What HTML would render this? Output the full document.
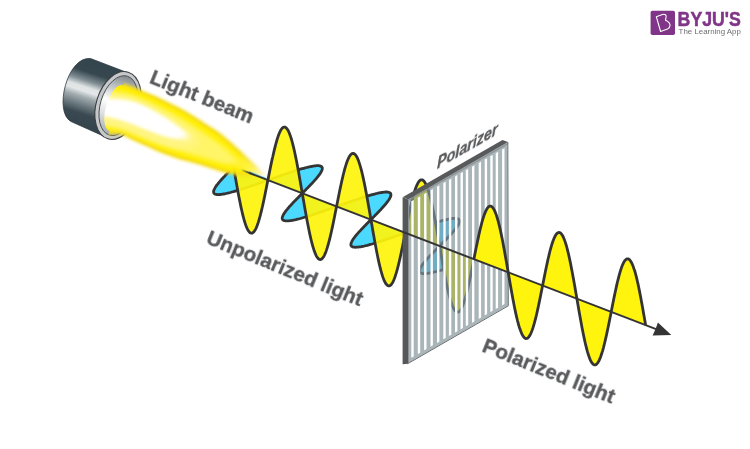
<!DOCTYPE html>
<html><head><meta charset="utf-8">
<style>
html,body{margin:0;padding:0;background:#fff;}
body{width:750px;height:449px;overflow:hidden;font-family:"Liberation Sans",sans-serif;}
svg{display:block;}
text{font-family:"Liberation Sans",sans-serif;}
</style></head><body>
<svg width="750" height="449" viewBox="0 0 750 449">
<defs>
  <linearGradient id="cyl" gradientUnits="userSpaceOnUse" x1="102" y1="60" x2="80" y2="128">
    <stop offset="0" stop-color="#34444c"/>
    <stop offset="0.22" stop-color="#37474f"/>
    <stop offset="0.34" stop-color="#7f8d93"/>
    <stop offset="0.43" stop-color="#dfe3e4"/>
    <stop offset="0.49" stop-color="#e4e7e8"/>
    <stop offset="0.57" stop-color="#a3adb1"/>
    <stop offset="0.68" stop-color="#6f7c82"/>
    <stop offset="0.80" stop-color="#3b4a52"/>
    <stop offset="1" stop-color="#33434b"/>
  </linearGradient>
  <linearGradient id="rimg" gradientUnits="userSpaceOnUse" x1="-4" y1="-31" x2="-4" y2="31">
    <stop offset="0" stop-color="#80878a"/>
    <stop offset="0.2" stop-color="#b9bdbf"/>
    <stop offset="0.45" stop-color="#ffffff"/>
    <stop offset="0.68" stop-color="#dfe1e2"/>
    <stop offset="1" stop-color="#a4aaad"/>
  </linearGradient>
  <filter id="blur6" x="-30%" y="-30%" width="160%" height="160%"><feGaussianBlur stdDeviation="4"/></filter>
  <filter id="blur3" x="-30%" y="-30%" width="160%" height="160%"><feGaussianBlur stdDeviation="3.5"/></filter>
  <filter id="blurA" filterUnits="userSpaceOnUse" x="0" y="-100" width="500" height="400"><feGaussianBlur stdDeviation="2.6 1.5"/></filter>
  <filter id="blurA2" filterUnits="userSpaceOnUse" x="0" y="-100" width="500" height="400"><feGaussianBlur stdDeviation="2.6 1.3"/></filter>
  <filter id="blurB" filterUnits="userSpaceOnUse" x="0" y="-100" width="500" height="400"><feGaussianBlur stdDeviation="5 2.6"/></filter>
  <filter id="blurB2" filterUnits="userSpaceOnUse" x="0" y="-100" width="500" height="400"><feGaussianBlur stdDeviation="5 2.2"/></filter>
  <filter id="blurC" filterUnits="userSpaceOnUse" x="0" y="-100" width="500" height="400"><feGaussianBlur stdDeviation="4.5 1.7"/></filter>
  <linearGradient id="axfade" gradientUnits="userSpaceOnUse" x1="241" y1="0" x2="250" y2="0">
    <stop offset="0" stop-color="#353435" stop-opacity="0"/>
    <stop offset="1" stop-color="#353435" stop-opacity="1"/>
  </linearGradient>
  <filter id="blur2" x="-30%" y="-30%" width="160%" height="160%"><feGaussianBlur stdDeviation="1.2"/></filter>
  <clipPath id="plateclip"><polygon points="407.5,199.0 507.5,142.0 508.0,305.5 407.5,363.5"/></clipPath>
  <clipPath id="beamclip"><path transform="translate(116.5,108) rotate(17)" d="M0,-24 A10.5,24 0 0 0 0,24 L0,80 L240,80 L240,-90 L0,-90 Z"/></clipPath>
  <linearGradient id="beamfade" gradientUnits="userSpaceOnUse" x1="236" y1="160" x2="270" y2="174">
    <stop offset="0" stop-color="#fff"/>
    <stop offset="0.5" stop-color="#aaa"/>
    <stop offset="1" stop-color="#000"/>
  </linearGradient>
  <mask id="beammask" maskUnits="userSpaceOnUse" x="0" y="0" width="750" height="449"><rect x="0" y="0" width="750" height="449" fill="url(#beamfade)"/></mask>
</defs>

<!-- torch body -->
<g id="torch">
  <path d="M90.5,58.5 L127,72.5 L109,138.5 L71,121.5 C53.5,112 67,56 90.5,58.5 Z" fill="url(#cyl)" stroke="#2e3c43" stroke-width="0.8"/>
  <g transform="translate(118,105.5) rotate(17)">
    <ellipse cx="0" cy="0" rx="21.8" ry="34.8" fill="#c6c8c9" stroke="#3a3f42" stroke-width="1.1"/>
    <ellipse cx="0.4" cy="0" rx="18" ry="30.8" fill="url(#rimg)" stroke="#4a4f52" stroke-width="0.9"/>
  </g>
</g>

<!-- waves before plate -->
<path d="M233.6,167.0 L232.5,168.1 L231.4,169.2 L230.2,170.4 L229.1,171.5 L228.0,172.6 L227.0,173.7 L225.9,174.8 L224.9,175.9 L223.9,176.9 L222.9,178.0 L222.0,179.0 L221.1,180.0 L220.2,181.0 L219.4,182.0 L218.6,182.9 L217.9,183.8 L217.2,184.7 L216.5,185.5 L216.0,186.4 L215.4,187.1 L215.0,187.9 L214.6,188.6 L214.3,189.3 L214.0,189.9 L213.8,190.5 L213.6,191.1 L213.6,191.6 L213.6,192.1 L213.7,192.5 L213.8,192.9 L214.0,193.3 L214.3,193.6 L214.7,193.9 L215.1,194.1 L215.6,194.3 L216.2,194.4 L216.9,194.5 L217.6,194.6 L218.4,194.6 L219.3,194.5 L220.3,194.5 L221.3,194.4 L222.4,194.2 L223.6,194.0 L224.8,193.8 L226.1,193.5 L227.5,193.2 L228.9,192.8 L230.4,192.5 L231.9,192.0 L233.5,191.6 L235.2,191.1 L236.9,190.6 L238.7,190.1 L240.5,189.5 L242.3,188.9 L244.2,188.3 L246.1,187.7 L248.1,187.0 L250.1,186.4 L252.1,185.7 L254.1,185.0 L256.2,184.3 L258.3,183.5 L260.4,182.8 L262.5,182.1 L264.6,181.3 L266.7,180.6 L268.8,179.8 L271.0,179.1 L273.1,178.3 L275.2,177.6 L277.3,176.8 L279.4,176.1 L281.5,175.4 L283.5,174.7 L285.5,174.0 L287.5,173.3 L289.5,172.7 L291.4,172.0 L293.3,171.4 L295.1,170.8 L296.9,170.3 L298.7,169.7 L300.4,169.2 L302.1,168.7 L303.7,168.3 L305.2,167.9 L306.7,167.5 L308.2,167.1 L309.5,166.8 L310.9,166.5 L312.1,166.3 L313.3,166.1 L314.4,165.9 L315.4,165.8 L316.4,165.7 L317.3,165.7 L318.1,165.7 L318.9,165.7 L319.5,165.8 L320.1,166.0 L320.7,166.1 L321.1,166.4 L321.5,166.6 L321.8,166.9 L322.0,167.3 L322.2,167.7 L322.3,168.1 L322.3,168.6 L322.2,169.1 L322.1,169.7 L321.9,170.2 L321.6,170.9 L321.3,171.6 L320.9,172.3 L320.5,173.0 L320.0,173.8 L319.4,174.6 L318.8,175.4 L318.1,176.3 L317.4,177.2 L316.6,178.2 L315.8,179.1 L314.9,180.1 L314.0,181.1 L313.1,182.1 L312.1,183.2 L311.1,184.2 L310.1,185.3 L309.0,186.4 L308.0,187.5 L306.9,188.6 L305.8,189.7 L304.7,190.9 L303.5,192.0 L302.4,193.1 L301.3,194.3 L300.2,195.4 L299.1,196.5 L298.0,197.7 L296.9,198.8 L295.8,199.9 L294.7,201.0 L293.7,202.1 L292.7,203.1 L291.7,204.2 L290.8,205.2 L289.8,206.2 L289.0,207.2 L288.1,208.2 L287.4,209.1 L286.6,210.0 L285.9,210.9 L285.3,211.8 L284.7,212.6 L284.2,213.4 L283.7,214.1 L283.3,214.8 L283.0,215.5 L282.7,216.2 L282.5,216.8 L282.3,217.4 L282.2,217.9 L282.2,218.4 L282.3,218.8 L282.4,219.2 L282.6,219.6 L282.9,219.9 L283.3,220.2 L283.7,220.4 L284.2,220.6 L284.8,220.7 L285.5,220.8 L286.2,220.9 L287.0,220.9 L287.9,220.9 L288.8,220.8 L289.8,220.7 L290.9,220.6 L292.1,220.4 L293.3,220.1 L294.6,219.9 L295.9,219.6 L297.4,219.2 L298.8,218.9 L300.4,218.5 L302.0,218.0 L303.6,217.5 L305.3,217.0 L307.1,216.5 L308.9,215.9 L310.7,215.4 L312.6,214.8 L314.5,214.1 L316.4,213.5 L318.4,212.8 L320.4,212.1 L322.5,211.4 L324.5,210.7 L326.6,210.0 L328.7,209.2 L330.8,208.5 L332.9,207.8 L335.1,207.0 L337.2,206.3 L339.3,205.5 L341.4,204.8 L343.6,204.0 L345.7,203.3 L347.7,202.5 L349.8,201.8 L351.9,201.1 L353.9,200.4 L355.9,199.8 L357.9,199.1 L359.8,198.5 L361.7,197.8 L363.5,197.2 L365.4,196.7 L367.1,196.1 L368.8,195.6 L370.5,195.1 L372.1,194.7 L373.7,194.3 L375.2,193.9 L376.6,193.5 L378.0,193.2 L379.3,192.9 L380.6,192.7 L381.8,192.5 L382.9,192.3 L383.9,192.2 L384.9,192.1 L385.8,192.0 L386.7,192.0 L387.4,192.1 L388.1,192.2 L388.7,192.3 L389.3,192.5 L389.7,192.7 L390.1,192.9 L390.4,193.2 L390.7,193.6 L390.8,194.0 L390.9,194.4 L390.9,194.9 L390.9,195.4 L390.8,195.9 L390.6,196.5 L390.3,197.1 L390.0,197.8 L389.7,198.5 L389.2,199.2 L388.7,200.0 L388.1,200.8 L387.5,201.7 L386.9,202.5 L386.1,203.4 L385.4,204.4 L384.6,205.3 L383.7,206.3 L382.8,207.3 L381.9,208.3 L380.9,209.4 L379.9,210.4 L378.9,211.5 L377.9,212.6 L376.8,213.7 L375.7,214.8 L374.6,215.9 L373.5,217.1 L372.4,218.2 L371.2,219.3 L370.1,220.5 L369.0,221.6 L367.9,222.7 L366.8,223.8 L365.7,225.0 L364.6,226.1 L363.5,227.2 L362.5,228.3 L361.5,229.3 L360.5,230.4 L359.5,231.4 L358.6,232.4 L357.8,233.4 L356.9,234.4 L356.1,235.3 L355.4,236.2 L354.7,237.1 L354.0,238.0 L353.4,238.8 L352.9,239.6 L352.4,240.4 L352.0,241.1 L351.7,241.8 L351.4,242.4 L351.2,243.0 L351.0,243.6 L350.9,244.2 L350.9,244.6 L350.9,245.1 L351.1,245.5 L351.3,245.9 L351.5,246.2 L351.9,246.5 L352.3,246.7 L352.8,246.9 L353.4,247.1 L354.0,247.2 L354.7,247.2 L355.5,247.3 L356.4,247.2 L357.3,247.2 L358.3,247.1 L359.4,246.9 L360.6,246.8 L361.8,246.5 L363.1,246.3 L364.4,246.0 L365.8,245.6 L367.3,245.3 L368.8,244.9 L370.4,244.4 L372.0,244.0 L373.7,243.5 L375.5,242.9 L377.3,242.4 L379.1,241.8 L381.0,241.2 L382.9,240.6 L384.8,239.9 L386.8,239.2 L388.8,238.6 L390.8,237.9 L392.9,237.2 L395.0,236.4 L397.1,235.7 L399.2,235.0 L401.3,234.2 L403.4,233.5 L405.6,232.7 L407.7,232.0 L409.8,231.2 L411.9,230.5 L414.0,229.7 L416.1,229.0 L418.2,228.3 L420.2,227.6 L422.3,226.9 L424.3,226.2 L426.2,225.5 L428.2,224.9 L430.1,224.3 L431.9,223.7 L433.8,223.1 L435.5,222.6 L437.3,222.0 L438.9,221.5 L440.6,221.1 L442.1,220.7 L443.6,220.3 L445.1,219.9 L446.5,219.6 L447.8,219.3 L449.1,219.0 L450.3,218.8 L451.4,218.7 L452.5,218.5 L453.4,218.4 L454.4,218.4 L455.2,218.4 L456.0,218.4 L456.7,218.5 L457.3,218.6 L457.8,218.8 L458.3,219.0 L458.7,219.2 L459.0,219.5 L459.3,219.9 L459.5,220.2 L459.6,220.7 L459.6,221.1 L459.6,221.6 L459.5,222.2 L459.3,222.8 L459.0,223.4 L458.7,224.0 L458.4,224.7 L457.9,225.5 L457.4,226.2 L456.9,227.1 L456.3,227.9 L455.6,228.8 L454.9,229.6 L454.2,230.6 L453.3,231.5 L452.5,232.5 L451.6,233.5 L450.7,234.5 L449.7,235.6 L448.7,236.6 L447.7,237.7 L446.7,238.8 L445.6,239.9 L444.5,241.0 L443.4,242.1 L442.3,243.2 L441.2,244.4 L440.1,245.5 L438.9,246.6 L437.8,247.8 L436.7,248.9 L435.6,250.0 L434.5,251.2 L433.4,252.3 L432.3,253.4 L431.3,254.4 L430.3,255.5 L429.3,256.6 L428.3,257.6 L427.4,258.6 L426.5,259.6 L425.7,260.6 L424.9,261.5 L424.1,262.5 L423.4,263.4 L422.8,264.2 L422.2,265.0 L421.6,265.8 L421.2,266.6 L420.7,267.3 L420.4,268.0 L420.1,268.7 L419.8,269.3 L419.7,269.9 L419.6,270.4 L419.5,270.9 L419.6,271.4 L419.7,271.8 L419.9,272.2 L420.2,272.5 L420.5,272.8 L420.9,273.0 L421.4,273.2 L422.0,273.4 L422.6,273.5 L423.3,273.6 L424.1,273.6 L424.9,273.6 L425.9,273.5 L426.9,273.4 L427.9,273.3 L429.1,273.1 L430.3,272.9 L431.5,272.7 L432.9,272.4 L434.3,272.0 L435.7,271.7 L437.3,271.3 L438.8,270.8 L440.5,270.4 L442.1,269.9 L443.9,269.4 L445.7,268.8 L447.5,268.2 L449.4,267.6 L451.3,267.0 L453.2,266.4 L455.2,265.7 L457.2,265.0 L459.2,264.3 L461.3,263.6 L463.3,262.9 L465.4,262.1 L467.5,261.4 L469.7,260.7 L471.8,259.9 L473.9,259.2" fill="#4bd9ff" stroke="#353435" stroke-width="2.8" stroke-linejoin="round"/>
<path d="M233.6,167.0 L234.1,169.9 L234.6,172.8 L235.1,175.7 L235.6,178.6 L236.1,181.4 L236.6,184.3 L237.1,187.1 L237.6,189.8 L238.1,192.5 L238.6,195.2 L239.1,197.8 L239.6,200.3 L240.1,202.8 L240.6,205.2 L241.1,207.6 L241.6,209.8 L242.1,212.0 L242.6,214.1 L243.1,216.1 L243.6,218.0 L244.1,219.8 L244.6,221.5 L245.1,223.1 L245.6,224.6 L246.1,226.0 L246.6,227.2 L247.1,228.4 L247.6,229.4 L248.1,230.3 L248.6,231.1 L249.1,231.7 L249.6,232.3 L250.1,232.7 L250.6,233.0 L251.1,233.1 L251.6,233.2 L252.1,233.1 L252.6,232.9 L253.1,232.6 L253.6,232.1 L254.1,231.5 L254.6,230.8 L255.1,230.0 L255.6,229.1 L256.1,228.1 L256.6,226.9 L257.1,225.7 L257.6,224.3 L258.1,222.9 L258.6,221.3 L259.1,219.6 L259.6,217.9 L260.1,216.1 L260.6,214.2 L261.1,212.2 L261.6,210.1 L262.1,208.0 L262.6,205.8 L263.1,203.6 L263.6,201.3 L264.1,198.9 L264.6,196.5 L265.1,194.1 L265.6,191.6 L266.1,189.1 L266.6,186.6 L267.1,184.1 L267.6,181.6 L268.1,179.0 L268.6,176.5 L269.1,174.0 L269.6,171.5 L270.1,169.0 L270.6,166.5 L271.1,164.1 L271.6,161.7 L272.1,159.3 L272.7,157.0 L273.2,154.8 L273.7,152.6 L274.2,150.4 L274.7,148.4 L275.2,146.4 L275.7,144.5 L276.2,142.6 L276.7,140.9 L277.2,139.2 L277.7,137.6 L278.2,136.1 L278.7,134.8 L279.2,133.5 L279.7,132.3 L280.2,131.3 L280.7,130.3 L281.2,129.5 L281.7,128.8 L282.2,128.2 L282.7,127.7 L283.2,127.4 L283.7,127.2 L284.2,127.1 L284.7,127.1 L285.2,127.2 L285.7,127.5 L286.2,127.9 L286.7,128.4 L287.2,129.1 L287.7,129.8 L288.2,130.7 L288.7,131.7 L289.2,132.9 L289.7,134.1 L290.2,135.5 L290.7,136.9 L291.2,138.5 L291.7,140.2 L292.2,142.0 L292.7,143.9 L293.2,145.9 L293.7,147.9 L294.2,150.1 L294.7,152.3 L295.2,154.7 L295.7,157.1 L296.2,159.5 L296.7,162.1 L297.2,164.7 L297.7,167.3 L298.2,170.1 L298.7,172.8 L299.2,175.6 L299.7,178.4 L300.2,181.3 L300.7,184.2 L301.2,187.1 L301.7,190.0 L302.2,192.9 L302.7,195.8 L303.2,198.7 L303.7,201.6 L304.2,204.5 L304.7,207.4 L305.2,210.2 L305.7,213.0 L306.2,215.8 L306.7,218.5 L307.2,221.2 L307.7,223.8 L308.2,226.3 L308.7,228.8 L309.2,231.3 L309.7,233.6 L310.2,235.9 L310.7,238.1 L311.2,240.2 L311.7,242.2 L312.2,244.1 L312.7,245.9 L313.2,247.6 L313.7,249.2 L314.2,250.7 L314.7,252.1 L315.2,253.4 L315.7,254.5 L316.2,255.6 L316.7,256.5 L317.2,257.3 L317.7,258.0 L318.2,258.6 L318.7,259.0 L319.2,259.3 L319.7,259.5 L320.2,259.5 L320.7,259.5 L321.2,259.3 L321.7,259.0 L322.2,258.5 L322.7,258.0 L323.2,257.3 L323.7,256.5 L324.2,255.6 L324.7,254.6 L325.2,253.4 L325.7,252.2 L326.2,250.9 L326.7,249.4 L327.2,247.9 L327.7,246.2 L328.2,244.5 L328.7,242.7 L329.2,240.8 L329.7,238.8 L330.2,236.8 L330.7,234.6 L331.2,232.5 L331.7,230.2 L332.2,227.9 L332.7,225.6 L333.2,223.2 L333.7,220.8 L334.2,218.3 L334.7,215.8 L335.2,213.3 L335.7,210.8 L336.2,208.3 L336.7,205.7 L337.2,203.2 L337.7,200.7 L338.2,198.2 L338.7,195.7 L339.2,193.2 L339.7,190.8 L340.2,188.4 L340.7,186.0 L341.2,183.7 L341.7,181.4 L342.2,179.2 L342.7,177.1 L343.2,175.0 L343.7,173.0 L344.2,171.1 L344.7,169.2 L345.2,167.4 L345.7,165.8 L346.2,164.2 L346.7,162.7 L347.2,161.3 L347.7,160.0 L348.2,158.8 L348.7,157.8 L349.2,156.8 L349.7,156.0 L350.3,155.2 L350.8,154.6 L351.3,154.2 L351.8,153.8 L352.3,153.5 L352.8,153.4 L353.3,153.4 L353.8,153.6 L354.3,153.8 L354.8,154.2 L355.3,154.7 L355.8,155.3 L356.3,156.1 L356.8,156.9 L357.3,157.9 L357.8,159.0 L358.3,160.3 L358.8,161.6 L359.3,163.1 L359.8,164.6 L360.3,166.3 L360.8,168.1 L361.3,169.9 L361.8,171.9 L362.3,174.0 L362.8,176.1 L363.3,178.4 L363.8,180.7 L364.3,183.1 L364.8,185.5 L365.3,188.1 L365.8,190.7 L366.3,193.3 L366.8,196.0 L367.3,198.8 L367.8,201.5 L368.3,204.4 L368.8,207.2 L369.3,210.1 L369.8,213.0 L370.3,215.9 L370.8,218.8 L371.3,221.7 L371.8,224.6 L372.3,227.5 L372.8,230.4 L373.3,233.3 L373.8,236.1 L374.3,239.0 L374.8,241.7 L375.3,244.4 L375.8,247.1 L376.3,249.8 L376.8,252.3 L377.3,254.8 L377.8,257.3 L378.3,259.6 L378.8,261.9 L379.3,264.1 L379.8,266.2 L380.3,268.2 L380.8,270.2 L381.3,272.0 L381.8,273.7 L382.3,275.3 L382.8,276.9 L383.3,278.3 L383.8,279.6 L384.3,280.7 L384.8,281.8 L385.3,282.7 L385.8,283.6 L386.3,284.3 L386.8,284.8 L387.3,285.3 L387.8,285.6 L388.3,285.8 L388.8,285.9 L389.3,285.8 L389.8,285.7 L390.3,285.4 L390.8,284.9 L391.3,284.4 L391.8,283.7 L392.3,283.0 L392.8,282.1 L393.3,281.1 L393.8,280.0 L394.3,278.7 L394.8,277.4 L395.3,276.0 L395.8,274.4 L396.3,272.8 L396.8,271.1 L397.3,269.3 L397.8,267.4 L398.3,265.4 L398.8,263.4 L399.3,261.3 L399.8,259.1 L400.3,256.9 L400.8,254.6 L401.3,252.3 L401.8,249.9 L402.3,247.5 L402.8,245.0 L403.3,242.5 L403.8,240.0 L404.3,237.5 L404.8,235.0 L405.3,232.5 L405.8,229.9 L406.3,227.4 L406.8,224.9 L407.3,222.4 L407.8,219.9 L408.3,217.5 L408.8,215.1 L409.3,212.7 L409.8,210.4 L410.3,208.1 L410.8,205.9 L411.3,203.7 L411.8,201.6 L412.3,199.6 L412.8,197.7 L413.3,195.8 L413.8,194.0 L414.3,192.3 L414.8,190.7 L415.3,189.2 L415.8,187.8 L416.3,186.5 L416.8,185.4 L417.3,184.3 L417.8,183.3 L418.3,182.4 L418.8,181.7 L419.3,181.1 L419.8,180.6 L420.3,180.2 L420.8,179.9 L421.3,179.8 L421.8,179.8 L422.3,179.9 L422.8,180.1 L423.3,180.5 L423.8,181.0 L424.3,181.6 L424.8,182.3 L425.3,183.2 L425.8,184.1 L426.3,185.2 L426.8,186.4 L427.3,187.8 L427.9,189.2 L428.4,190.7 L428.9,192.4 L429.4,194.2 L429.9,196.0 L430.4,198.0 L430.9,200.0 L431.4,202.2 L431.9,204.4 L432.4,206.7 L432.9,209.1 L433.4,211.5 L433.9,214.0 L434.4,216.6 L434.9,219.3 L435.4,222.0 L435.9,224.7 L436.4,227.5 L436.9,230.3 L437.4,233.2 L437.9,236.0 L438.4,238.9 L438.9,241.8 L439.4,244.7 L439.9,247.7 L440.4,250.6 L440.9,253.5 L441.4,256.4 L441.9,259.2 L442.4,262.1 L442.9,264.9 L443.4,267.7 L443.9,270.4 L444.4,273.1 L444.9,275.7 L445.4,278.3 L445.9,280.8 L446.4,283.3 L446.9,285.6 L447.4,287.9 L447.9,290.1 L448.4,292.3 L448.9,294.3 L449.4,296.2 L449.9,298.1 L450.4,299.8 L450.9,301.5 L451.4,303.0 L451.9,304.4 L452.4,305.7 L452.9,306.9 L453.4,308.0 L453.9,309.0 L454.4,309.8 L454.9,310.5 L455.4,311.1 L455.9,311.6 L456.4,311.9 L456.9,312.1 L457.4,312.2 L457.9,312.2 L458.4,312.0 L458.9,311.8 L459.4,311.4 L459.9,310.8 L460.4,310.2 L460.9,309.4 L461.4,308.6 L461.9,307.6 L462.4,306.5 L462.9,305.3 L463.4,303.9 L463.9,302.5 L464.4,301.0 L464.9,299.4 L465.4,297.7 L465.9,295.9 L466.4,294.0 L466.9,292.1 L467.4,290.0 L467.9,287.9 L468.4,285.8 L468.9,283.6 L469.4,281.3 L469.9,278.9 L470.4,276.6 L470.9,274.2 L471.4,271.7 L471.9,269.2 L472.4,266.7 L472.9,264.2 L473.4,261.7 L473.9,259.2" fill="#fff40d" fill-opacity="0.93" stroke="#353435" stroke-width="2.8" stroke-linejoin="round"/>

<!-- beam -->
<g id="beam" clip-path="url(#beamclip)" mask="url(#beammask)">
  <g transform="rotate(21)"><g filter="url(#blurA)"><path transform="rotate(-21)" d="M100,79.5 L121,83 C128,84.5 134,87 140,89.5 C147,92.5 153,94.5 160,98 C167,101.5 173,104 180,108 C187,112 193,115 200,120 C207,125 213,128 220,133 C232,142.5 250,160 267,176 C252,178 235,176 220,171.5 C213,169.5 207,167 200,165 C193,163 187,161.5 180,159.5 C173,157 167,155 160,152.5 C153,149.5 147,146.5 140,143.5 C133,140.5 127,137.5 120,134 L100,134.5 Z" fill="#f4dc18"/></g></g>
  <g transform="rotate(21)"><g filter="url(#blurA2)"><path transform="rotate(-21)" d="M100,82.5 L121,86 C128,87.5 134,90 139,92.2 C146,95.2 152,97.4 158.8,100.8 C165.8,104.3 171.8,106.8 178.6,110.7 C185.6,114.7 191.6,117.7 198.4,122.6 C205.4,127.6 211.4,130.6 218.2,135.5 C230,145 246,160 259,172 C248,174 235,172.5 221,168.5 C214,166.5 208,164 201,162 C194,160 188,158.5 181,156.5 C174,154 168,152 161,149.5 C154,146.5 148,143.5 141,140.5 C134,137.5 128,134.5 121,131 L100,131 Z" fill="#ffee00"/></g></g>
  <g transform="rotate(21)"><g filter="url(#blurB2)"><path transform="rotate(-21)" d="M98,89.5 L121,92 C128,93.5 134,95.5 140,98 C147,101 153,103.5 160,107 C167,110.5 173,113.5 180,117.5 C187,121.5 193,125.5 200,130 C207,134.5 213,139 220,144 C228,150 236,157 240,162.5 C234,166 227,165 220,163 C213,161 207,159 200,157 C193,155 187,153 180,151 C173,148.8 167,146.5 160,144 C153,141.3 147,138.5 140,135.5 C133,132.5 127,129.3 121,126 L98,125.5 Z" fill="#fff566"/></g></g>
  <g transform="rotate(21)"><g filter="url(#blurB)"><path transform="rotate(-21)" d="M98,94 L112,95 C118,95.3 124,95.8 131,97.5 C138,99.5 144,102 151,105.5 C158,109.5 164,113 171,117.5 C177,121.5 183,125.5 187,128.5 C195,134 201,142 196,147 C190,150 178,148.3 168,146.3 C161,144.3 155,142.3 148,139.6 C141,137.1 135,134.4 128,131.6 C121,129.1 115,127.4 108,125.6 L98,124.3 Z" fill="#fff582"/></g></g>
  <g transform="rotate(21)"><g filter="url(#blurC)"><path transform="rotate(-21)" d="M98,97.5 L112,98.5 C118,98.8 124,99.3 130,100.5 C137,102.5 143,105 150,108.5 C157,112.5 163,116 170,120.5 C176,124.5 180,127.5 183,130 C187,133 189,136.5 185,138.5 C181,139.7 176,139 170,138 C163,136 157,134 150,131.3 C143,128.8 137,126.1 130,123.3 C123,120.8 117,119.1 110,117.3 L98,116 Z" fill="#ffffff"/></g></g>
</g>

<!-- polarizer plate -->
<g id="plate">
  <polygon points="407.5,199.0 507.5,142.0 508.0,305.5 407.5,363.5" fill="#a9b5b9"/>
  <g clip-path="url(#plateclip)">
    <path d="M233.6,167.0 L232.5,168.1 L231.4,169.2 L230.2,170.4 L229.1,171.5 L228.0,172.6 L227.0,173.7 L225.9,174.8 L224.9,175.9 L223.9,176.9 L222.9,178.0 L222.0,179.0 L221.1,180.0 L220.2,181.0 L219.4,182.0 L218.6,182.9 L217.9,183.8 L217.2,184.7 L216.5,185.5 L216.0,186.4 L215.4,187.1 L215.0,187.9 L214.6,188.6 L214.3,189.3 L214.0,189.9 L213.8,190.5 L213.6,191.1 L213.6,191.6 L213.6,192.1 L213.7,192.5 L213.8,192.9 L214.0,193.3 L214.3,193.6 L214.7,193.9 L215.1,194.1 L215.6,194.3 L216.2,194.4 L216.9,194.5 L217.6,194.6 L218.4,194.6 L219.3,194.5 L220.3,194.5 L221.3,194.4 L222.4,194.2 L223.6,194.0 L224.8,193.8 L226.1,193.5 L227.5,193.2 L228.9,192.8 L230.4,192.5 L231.9,192.0 L233.5,191.6 L235.2,191.1 L236.9,190.6 L238.7,190.1 L240.5,189.5 L242.3,188.9 L244.2,188.3 L246.1,187.7 L248.1,187.0 L250.1,186.4 L252.1,185.7 L254.1,185.0 L256.2,184.3 L258.3,183.5 L260.4,182.8 L262.5,182.1 L264.6,181.3 L266.7,180.6 L268.8,179.8 L271.0,179.1 L273.1,178.3 L275.2,177.6 L277.3,176.8 L279.4,176.1 L281.5,175.4 L283.5,174.7 L285.5,174.0 L287.5,173.3 L289.5,172.7 L291.4,172.0 L293.3,171.4 L295.1,170.8 L296.9,170.3 L298.7,169.7 L300.4,169.2 L302.1,168.7 L303.7,168.3 L305.2,167.9 L306.7,167.5 L308.2,167.1 L309.5,166.8 L310.9,166.5 L312.1,166.3 L313.3,166.1 L314.4,165.9 L315.4,165.8 L316.4,165.7 L317.3,165.7 L318.1,165.7 L318.9,165.7 L319.5,165.8 L320.1,166.0 L320.7,166.1 L321.1,166.4 L321.5,166.6 L321.8,166.9 L322.0,167.3 L322.2,167.7 L322.3,168.1 L322.3,168.6 L322.2,169.1 L322.1,169.7 L321.9,170.2 L321.6,170.9 L321.3,171.6 L320.9,172.3 L320.5,173.0 L320.0,173.8 L319.4,174.6 L318.8,175.4 L318.1,176.3 L317.4,177.2 L316.6,178.2 L315.8,179.1 L314.9,180.1 L314.0,181.1 L313.1,182.1 L312.1,183.2 L311.1,184.2 L310.1,185.3 L309.0,186.4 L308.0,187.5 L306.9,188.6 L305.8,189.7 L304.7,190.9 L303.5,192.0 L302.4,193.1 L301.3,194.3 L300.2,195.4 L299.1,196.5 L298.0,197.7 L296.9,198.8 L295.8,199.9 L294.7,201.0 L293.7,202.1 L292.7,203.1 L291.7,204.2 L290.8,205.2 L289.8,206.2 L289.0,207.2 L288.1,208.2 L287.4,209.1 L286.6,210.0 L285.9,210.9 L285.3,211.8 L284.7,212.6 L284.2,213.4 L283.7,214.1 L283.3,214.8 L283.0,215.5 L282.7,216.2 L282.5,216.8 L282.3,217.4 L282.2,217.9 L282.2,218.4 L282.3,218.8 L282.4,219.2 L282.6,219.6 L282.9,219.9 L283.3,220.2 L283.7,220.4 L284.2,220.6 L284.8,220.7 L285.5,220.8 L286.2,220.9 L287.0,220.9 L287.9,220.9 L288.8,220.8 L289.8,220.7 L290.9,220.6 L292.1,220.4 L293.3,220.1 L294.6,219.9 L295.9,219.6 L297.4,219.2 L298.8,218.9 L300.4,218.5 L302.0,218.0 L303.6,217.5 L305.3,217.0 L307.1,216.5 L308.9,215.9 L310.7,215.4 L312.6,214.8 L314.5,214.1 L316.4,213.5 L318.4,212.8 L320.4,212.1 L322.5,211.4 L324.5,210.7 L326.6,210.0 L328.7,209.2 L330.8,208.5 L332.9,207.8 L335.1,207.0 L337.2,206.3 L339.3,205.5 L341.4,204.8 L343.6,204.0 L345.7,203.3 L347.7,202.5 L349.8,201.8 L351.9,201.1 L353.9,200.4 L355.9,199.8 L357.9,199.1 L359.8,198.5 L361.7,197.8 L363.5,197.2 L365.4,196.7 L367.1,196.1 L368.8,195.6 L370.5,195.1 L372.1,194.7 L373.7,194.3 L375.2,193.9 L376.6,193.5 L378.0,193.2 L379.3,192.9 L380.6,192.7 L381.8,192.5 L382.9,192.3 L383.9,192.2 L384.9,192.1 L385.8,192.0 L386.7,192.0 L387.4,192.1 L388.1,192.2 L388.7,192.3 L389.3,192.5 L389.7,192.7 L390.1,192.9 L390.4,193.2 L390.7,193.6 L390.8,194.0 L390.9,194.4 L390.9,194.9 L390.9,195.4 L390.8,195.9 L390.6,196.5 L390.3,197.1 L390.0,197.8 L389.7,198.5 L389.2,199.2 L388.7,200.0 L388.1,200.8 L387.5,201.7 L386.9,202.5 L386.1,203.4 L385.4,204.4 L384.6,205.3 L383.7,206.3 L382.8,207.3 L381.9,208.3 L380.9,209.4 L379.9,210.4 L378.9,211.5 L377.9,212.6 L376.8,213.7 L375.7,214.8 L374.6,215.9 L373.5,217.1 L372.4,218.2 L371.2,219.3 L370.1,220.5 L369.0,221.6 L367.9,222.7 L366.8,223.8 L365.7,225.0 L364.6,226.1 L363.5,227.2 L362.5,228.3 L361.5,229.3 L360.5,230.4 L359.5,231.4 L358.6,232.4 L357.8,233.4 L356.9,234.4 L356.1,235.3 L355.4,236.2 L354.7,237.1 L354.0,238.0 L353.4,238.8 L352.9,239.6 L352.4,240.4 L352.0,241.1 L351.7,241.8 L351.4,242.4 L351.2,243.0 L351.0,243.6 L350.9,244.2 L350.9,244.6 L350.9,245.1 L351.1,245.5 L351.3,245.9 L351.5,246.2 L351.9,246.5 L352.3,246.7 L352.8,246.9 L353.4,247.1 L354.0,247.2 L354.7,247.2 L355.5,247.3 L356.4,247.2 L357.3,247.2 L358.3,247.1 L359.4,246.9 L360.6,246.8 L361.8,246.5 L363.1,246.3 L364.4,246.0 L365.8,245.6 L367.3,245.3 L368.8,244.9 L370.4,244.4 L372.0,244.0 L373.7,243.5 L375.5,242.9 L377.3,242.4 L379.1,241.8 L381.0,241.2 L382.9,240.6 L384.8,239.9 L386.8,239.2 L388.8,238.6 L390.8,237.9 L392.9,237.2 L395.0,236.4 L397.1,235.7 L399.2,235.0 L401.3,234.2 L403.4,233.5 L405.6,232.7 L407.7,232.0 L409.8,231.2 L411.9,230.5 L414.0,229.7 L416.1,229.0 L418.2,228.3 L420.2,227.6 L422.3,226.9 L424.3,226.2 L426.2,225.5 L428.2,224.9 L430.1,224.3 L431.9,223.7 L433.8,223.1 L435.5,222.6 L437.3,222.0 L438.9,221.5 L440.6,221.1 L442.1,220.7 L443.6,220.3 L445.1,219.9 L446.5,219.6 L447.8,219.3 L449.1,219.0 L450.3,218.8 L451.4,218.7 L452.5,218.5 L453.4,218.4 L454.4,218.4 L455.2,218.4 L456.0,218.4 L456.7,218.5 L457.3,218.6 L457.8,218.8 L458.3,219.0 L458.7,219.2 L459.0,219.5 L459.3,219.9 L459.5,220.2 L459.6,220.7 L459.6,221.1 L459.6,221.6 L459.5,222.2 L459.3,222.8 L459.0,223.4 L458.7,224.0 L458.4,224.7 L457.9,225.5 L457.4,226.2 L456.9,227.1 L456.3,227.9 L455.6,228.8 L454.9,229.6 L454.2,230.6 L453.3,231.5 L452.5,232.5 L451.6,233.5 L450.7,234.5 L449.7,235.6 L448.7,236.6 L447.7,237.7 L446.7,238.8 L445.6,239.9 L444.5,241.0 L443.4,242.1 L442.3,243.2 L441.2,244.4 L440.1,245.5 L438.9,246.6 L437.8,247.8 L436.7,248.9 L435.6,250.0 L434.5,251.2 L433.4,252.3 L432.3,253.4 L431.3,254.4 L430.3,255.5 L429.3,256.6 L428.3,257.6 L427.4,258.6 L426.5,259.6 L425.7,260.6 L424.9,261.5 L424.1,262.5 L423.4,263.4 L422.8,264.2 L422.2,265.0 L421.6,265.8 L421.2,266.6 L420.7,267.3 L420.4,268.0 L420.1,268.7 L419.8,269.3 L419.7,269.9 L419.6,270.4 L419.5,270.9 L419.6,271.4 L419.7,271.8 L419.9,272.2 L420.2,272.5 L420.5,272.8 L420.9,273.0 L421.4,273.2 L422.0,273.4 L422.6,273.5 L423.3,273.6 L424.1,273.6 L424.9,273.6 L425.9,273.5 L426.9,273.4 L427.9,273.3 L429.1,273.1 L430.3,272.9 L431.5,272.7 L432.9,272.4 L434.3,272.0 L435.7,271.7 L437.3,271.3 L438.8,270.8 L440.5,270.4 L442.1,269.9 L443.9,269.4 L445.7,268.8 L447.5,268.2 L449.4,267.6 L451.3,267.0 L453.2,266.4 L455.2,265.7 L457.2,265.0 L459.2,264.3 L461.3,263.6 L463.3,262.9 L465.4,262.1 L467.5,261.4 L469.7,260.7 L471.8,259.9 L473.9,259.2" fill="#70acc4" stroke="#65757e" stroke-width="2.8" stroke-linejoin="round"/>
    <path d="M233.6,167.0 L234.1,169.9 L234.6,172.8 L235.1,175.7 L235.6,178.6 L236.1,181.4 L236.6,184.3 L237.1,187.1 L237.6,189.8 L238.1,192.5 L238.6,195.2 L239.1,197.8 L239.6,200.3 L240.1,202.8 L240.6,205.2 L241.1,207.6 L241.6,209.8 L242.1,212.0 L242.6,214.1 L243.1,216.1 L243.6,218.0 L244.1,219.8 L244.6,221.5 L245.1,223.1 L245.6,224.6 L246.1,226.0 L246.6,227.2 L247.1,228.4 L247.6,229.4 L248.1,230.3 L248.6,231.1 L249.1,231.7 L249.6,232.3 L250.1,232.7 L250.6,233.0 L251.1,233.1 L251.6,233.2 L252.1,233.1 L252.6,232.9 L253.1,232.6 L253.6,232.1 L254.1,231.5 L254.6,230.8 L255.1,230.0 L255.6,229.1 L256.1,228.1 L256.6,226.9 L257.1,225.7 L257.6,224.3 L258.1,222.9 L258.6,221.3 L259.1,219.6 L259.6,217.9 L260.1,216.1 L260.6,214.2 L261.1,212.2 L261.6,210.1 L262.1,208.0 L262.6,205.8 L263.1,203.6 L263.6,201.3 L264.1,198.9 L264.6,196.5 L265.1,194.1 L265.6,191.6 L266.1,189.1 L266.6,186.6 L267.1,184.1 L267.6,181.6 L268.1,179.0 L268.6,176.5 L269.1,174.0 L269.6,171.5 L270.1,169.0 L270.6,166.5 L271.1,164.1 L271.6,161.7 L272.1,159.3 L272.7,157.0 L273.2,154.8 L273.7,152.6 L274.2,150.4 L274.7,148.4 L275.2,146.4 L275.7,144.5 L276.2,142.6 L276.7,140.9 L277.2,139.2 L277.7,137.6 L278.2,136.1 L278.7,134.8 L279.2,133.5 L279.7,132.3 L280.2,131.3 L280.7,130.3 L281.2,129.5 L281.7,128.8 L282.2,128.2 L282.7,127.7 L283.2,127.4 L283.7,127.2 L284.2,127.1 L284.7,127.1 L285.2,127.2 L285.7,127.5 L286.2,127.9 L286.7,128.4 L287.2,129.1 L287.7,129.8 L288.2,130.7 L288.7,131.7 L289.2,132.9 L289.7,134.1 L290.2,135.5 L290.7,136.9 L291.2,138.5 L291.7,140.2 L292.2,142.0 L292.7,143.9 L293.2,145.9 L293.7,147.9 L294.2,150.1 L294.7,152.3 L295.2,154.7 L295.7,157.1 L296.2,159.5 L296.7,162.1 L297.2,164.7 L297.7,167.3 L298.2,170.1 L298.7,172.8 L299.2,175.6 L299.7,178.4 L300.2,181.3 L300.7,184.2 L301.2,187.1 L301.7,190.0 L302.2,192.9 L302.7,195.8 L303.2,198.7 L303.7,201.6 L304.2,204.5 L304.7,207.4 L305.2,210.2 L305.7,213.0 L306.2,215.8 L306.7,218.5 L307.2,221.2 L307.7,223.8 L308.2,226.3 L308.7,228.8 L309.2,231.3 L309.7,233.6 L310.2,235.9 L310.7,238.1 L311.2,240.2 L311.7,242.2 L312.2,244.1 L312.7,245.9 L313.2,247.6 L313.7,249.2 L314.2,250.7 L314.7,252.1 L315.2,253.4 L315.7,254.5 L316.2,255.6 L316.7,256.5 L317.2,257.3 L317.7,258.0 L318.2,258.6 L318.7,259.0 L319.2,259.3 L319.7,259.5 L320.2,259.5 L320.7,259.5 L321.2,259.3 L321.7,259.0 L322.2,258.5 L322.7,258.0 L323.2,257.3 L323.7,256.5 L324.2,255.6 L324.7,254.6 L325.2,253.4 L325.7,252.2 L326.2,250.9 L326.7,249.4 L327.2,247.9 L327.7,246.2 L328.2,244.5 L328.7,242.7 L329.2,240.8 L329.7,238.8 L330.2,236.8 L330.7,234.6 L331.2,232.5 L331.7,230.2 L332.2,227.9 L332.7,225.6 L333.2,223.2 L333.7,220.8 L334.2,218.3 L334.7,215.8 L335.2,213.3 L335.7,210.8 L336.2,208.3 L336.7,205.7 L337.2,203.2 L337.7,200.7 L338.2,198.2 L338.7,195.7 L339.2,193.2 L339.7,190.8 L340.2,188.4 L340.7,186.0 L341.2,183.7 L341.7,181.4 L342.2,179.2 L342.7,177.1 L343.2,175.0 L343.7,173.0 L344.2,171.1 L344.7,169.2 L345.2,167.4 L345.7,165.8 L346.2,164.2 L346.7,162.7 L347.2,161.3 L347.7,160.0 L348.2,158.8 L348.7,157.8 L349.2,156.8 L349.7,156.0 L350.3,155.2 L350.8,154.6 L351.3,154.2 L351.8,153.8 L352.3,153.5 L352.8,153.4 L353.3,153.4 L353.8,153.6 L354.3,153.8 L354.8,154.2 L355.3,154.7 L355.8,155.3 L356.3,156.1 L356.8,156.9 L357.3,157.9 L357.8,159.0 L358.3,160.3 L358.8,161.6 L359.3,163.1 L359.8,164.6 L360.3,166.3 L360.8,168.1 L361.3,169.9 L361.8,171.9 L362.3,174.0 L362.8,176.1 L363.3,178.4 L363.8,180.7 L364.3,183.1 L364.8,185.5 L365.3,188.1 L365.8,190.7 L366.3,193.3 L366.8,196.0 L367.3,198.8 L367.8,201.5 L368.3,204.4 L368.8,207.2 L369.3,210.1 L369.8,213.0 L370.3,215.9 L370.8,218.8 L371.3,221.7 L371.8,224.6 L372.3,227.5 L372.8,230.4 L373.3,233.3 L373.8,236.1 L374.3,239.0 L374.8,241.7 L375.3,244.4 L375.8,247.1 L376.3,249.8 L376.8,252.3 L377.3,254.8 L377.8,257.3 L378.3,259.6 L378.8,261.9 L379.3,264.1 L379.8,266.2 L380.3,268.2 L380.8,270.2 L381.3,272.0 L381.8,273.7 L382.3,275.3 L382.8,276.9 L383.3,278.3 L383.8,279.6 L384.3,280.7 L384.8,281.8 L385.3,282.7 L385.8,283.6 L386.3,284.3 L386.8,284.8 L387.3,285.3 L387.8,285.6 L388.3,285.8 L388.8,285.9 L389.3,285.8 L389.8,285.7 L390.3,285.4 L390.8,284.9 L391.3,284.4 L391.8,283.7 L392.3,283.0 L392.8,282.1 L393.3,281.1 L393.8,280.0 L394.3,278.7 L394.8,277.4 L395.3,276.0 L395.8,274.4 L396.3,272.8 L396.8,271.1 L397.3,269.3 L397.8,267.4 L398.3,265.4 L398.8,263.4 L399.3,261.3 L399.8,259.1 L400.3,256.9 L400.8,254.6 L401.3,252.3 L401.8,249.9 L402.3,247.5 L402.8,245.0 L403.3,242.5 L403.8,240.0 L404.3,237.5 L404.8,235.0 L405.3,232.5 L405.8,229.9 L406.3,227.4 L406.8,224.9 L407.3,222.4 L407.8,219.9 L408.3,217.5 L408.8,215.1 L409.3,212.7 L409.8,210.4 L410.3,208.1 L410.8,205.9 L411.3,203.7 L411.8,201.6 L412.3,199.6 L412.8,197.7 L413.3,195.8 L413.8,194.0 L414.3,192.3 L414.8,190.7 L415.3,189.2 L415.8,187.8 L416.3,186.5 L416.8,185.4 L417.3,184.3 L417.8,183.3 L418.3,182.4 L418.8,181.7 L419.3,181.1 L419.8,180.6 L420.3,180.2 L420.8,179.9 L421.3,179.8 L421.8,179.8 L422.3,179.9 L422.8,180.1 L423.3,180.5 L423.8,181.0 L424.3,181.6 L424.8,182.3 L425.3,183.2 L425.8,184.1 L426.3,185.2 L426.8,186.4 L427.3,187.8 L427.9,189.2 L428.4,190.7 L428.9,192.4 L429.4,194.2 L429.9,196.0 L430.4,198.0 L430.9,200.0 L431.4,202.2 L431.9,204.4 L432.4,206.7 L432.9,209.1 L433.4,211.5 L433.9,214.0 L434.4,216.6 L434.9,219.3 L435.4,222.0 L435.9,224.7 L436.4,227.5 L436.9,230.3 L437.4,233.2 L437.9,236.0 L438.4,238.9 L438.9,241.8 L439.4,244.7 L439.9,247.7 L440.4,250.6 L440.9,253.5 L441.4,256.4 L441.9,259.2 L442.4,262.1 L442.9,264.9 L443.4,267.7 L443.9,270.4 L444.4,273.1 L444.9,275.7 L445.4,278.3 L445.9,280.8 L446.4,283.3 L446.9,285.6 L447.4,287.9 L447.9,290.1 L448.4,292.3 L448.9,294.3 L449.4,296.2 L449.9,298.1 L450.4,299.8 L450.9,301.5 L451.4,303.0 L451.9,304.4 L452.4,305.7 L452.9,306.9 L453.4,308.0 L453.9,309.0 L454.4,309.8 L454.9,310.5 L455.4,311.1 L455.9,311.6 L456.4,311.9 L456.9,312.1 L457.4,312.2 L457.9,312.2 L458.4,312.0 L458.9,311.8 L459.4,311.4 L459.9,310.8 L460.4,310.2 L460.9,309.4 L461.4,308.6 L461.9,307.6 L462.4,306.5 L462.9,305.3 L463.4,303.9 L463.9,302.5 L464.4,301.0 L464.9,299.4 L465.4,297.7 L465.9,295.9 L466.4,294.0 L466.9,292.1 L467.4,290.0 L467.9,287.9 L468.4,285.8 L468.9,283.6 L469.4,281.3 L469.9,278.9 L470.4,276.6 L470.9,274.2 L471.4,271.7 L471.9,269.2 L472.4,266.7 L472.9,264.2 L473.4,261.7 L473.9,259.2" fill="#aab469" stroke="#65757e" stroke-width="2.8" stroke-linejoin="round"/>
  </g>
  <g fill="#ffffff">
<polygon points="411.30,201.33 413.70,199.97 413.70,356.42 411.30,357.81"/>
<polygon points="417.80,197.63 420.20,196.26 420.20,352.67 417.80,354.06"/>
<polygon points="424.10,194.04 426.50,192.67 426.50,349.03 424.10,350.42"/>
<polygon points="430.50,190.39 432.90,189.02 432.90,345.34 430.50,346.73"/>
<polygon points="437.00,186.69 439.40,185.32 439.40,341.59 437.00,342.98"/>
<polygon points="443.30,183.09 445.70,181.73 445.70,337.95 443.30,339.34"/>
<polygon points="448.90,179.90 451.30,178.53 451.30,334.72 448.90,336.11"/>
<polygon points="455.00,176.43 457.40,175.06 457.40,331.20 455.00,332.59"/>
<polygon points="460.50,173.29 462.90,171.92 462.90,328.03 460.50,329.41"/>
<polygon points="465.80,170.27 468.20,168.90 468.20,324.97 465.80,326.35"/>
<polygon points="472.00,166.74 474.40,165.37 474.40,321.39 472.00,322.78"/>
<polygon points="478.70,162.92 481.10,161.55 481.10,317.52 478.70,318.91"/>
<polygon points="484.70,159.50 487.10,158.13 487.10,314.06 484.70,315.45"/>
<polygon points="490.30,156.30 492.70,154.94 492.70,310.83 490.30,312.21"/>
<polygon points="495.70,153.23 498.10,151.86 498.10,307.71 495.70,309.10"/>
<polygon points="502.10,149.58 504.50,148.21 504.50,304.02 502.10,305.40"/>
  </g>
  <!-- top edge -->
  <polygon points="403,197 502.5,140 508,142 408,199.5" fill="#58595b"/>
  <polyline points="408,200.5 508,143.5" fill="none" stroke="#8b8f91" stroke-width="1.2"/>
  <!-- left edge -->
  <polygon points="402.6,197 408,199.5 408,363.8 402.6,364.2" fill="#555759"/>
  <polyline points="408.5,201 408.5,363" fill="none" stroke="#8b8f91" stroke-width="1"/>
  <!-- bottom/right outline -->
  <polyline points="407.5,363.8 508.3,305.8 507.8,142" fill="none" stroke="#6a6e70" stroke-width="1"/>
</g>

<!-- front wave -->
<path d="M473.9,259.2 L474.4,256.6 L474.9,254.1 L475.4,251.6 L475.9,249.1 L476.4,246.6 L476.9,244.2 L477.4,241.8 L477.9,239.4 L478.4,237.1 L478.9,234.8 L479.4,232.6 L479.9,230.4 L480.4,228.3 L480.9,226.3 L481.4,224.3 L481.9,222.4 L482.4,220.6 L482.9,218.9 L483.4,217.3 L483.9,215.8 L484.4,214.4 L484.9,213.1 L485.4,211.9 L485.9,210.8 L486.4,209.8 L486.9,208.9 L487.4,208.1 L487.9,207.5 L488.4,207.0 L488.9,206.6 L489.4,206.3 L489.9,206.1 L490.4,206.1 L490.9,206.2 L491.4,206.4 L491.9,206.8 L492.4,207.2 L492.9,207.8 L493.4,208.5 L493.9,209.4 L494.4,210.3 L494.9,211.4 L495.4,212.6 L495.9,213.9 L496.4,215.3 L496.9,216.8 L497.4,218.5 L497.9,220.2 L498.4,222.1 L498.9,224.0 L499.4,226.0 L499.9,228.1 L500.4,230.4 L500.9,232.6 L501.4,235.0 L501.9,237.5 L502.4,240.0 L502.9,242.5 L503.4,245.2 L503.9,247.9 L504.4,250.6 L504.9,253.4 L505.4,256.2 L505.9,259.0 L506.4,261.9 L506.9,264.8 L507.4,267.7 L507.9,270.6 L508.4,273.5 L508.9,276.4 L509.4,279.3 L509.9,282.2 L510.4,285.1 L510.9,287.9 L511.4,290.8 L511.9,293.5 L512.4,296.3 L512.9,299.0 L513.4,301.6 L513.9,304.2 L514.4,306.7 L514.9,309.2 L515.4,311.6 L515.9,313.9 L516.4,316.1 L516.9,318.2 L517.4,320.3 L517.9,322.2 L518.4,324.1 L518.9,325.9 L519.4,327.5 L520.0,329.1 L520.5,330.5 L521.0,331.8 L521.5,333.1 L522.0,334.2 L522.5,335.1 L523.0,336.0 L523.5,336.7 L524.0,337.3 L524.5,337.8 L525.0,338.2 L525.5,338.4 L526.0,338.6 L526.5,338.5 L527.0,338.4 L527.5,338.2 L528.0,337.8 L528.5,337.3 L529.0,336.7 L529.5,335.9 L530.0,335.1 L530.5,334.1 L531.0,333.0 L531.5,331.8 L532.0,330.5 L532.5,329.1 L533.0,327.7 L533.5,326.1 L534.0,324.4 L534.5,322.6 L535.0,320.7 L535.5,318.8 L536.0,316.8 L536.5,314.7 L537.0,312.6 L537.5,310.3 L538.0,308.1 L538.5,305.8 L539.0,303.4 L539.5,301.0 L540.0,298.5 L540.5,296.1 L541.0,293.6 L541.5,291.1 L542.0,288.5 L542.5,286.0 L543.0,283.5 L543.5,281.0 L544.0,278.4 L544.5,275.9 L545.0,273.5 L545.5,271.0 L546.0,268.6 L546.5,266.2 L547.0,263.9 L547.5,261.6 L548.0,259.3 L548.5,257.2 L549.0,255.1 L549.5,253.0 L550.0,251.0 L550.5,249.1 L551.0,247.3 L551.5,245.6 L552.0,244.0 L552.5,242.5 L553.0,241.0 L553.5,239.7 L554.0,238.4 L554.5,237.3 L555.0,236.3 L555.5,235.4 L556.0,234.6 L556.5,234.0 L557.0,233.4 L557.5,233.0 L558.0,232.7 L558.5,232.5 L559.0,232.4 L559.5,232.5 L560.0,232.7 L560.5,233.0 L561.0,233.5 L561.5,234.0 L562.0,234.7 L562.5,235.5 L563.0,236.5 L563.5,237.5 L564.0,238.7 L564.5,240.0 L565.0,241.4 L565.5,242.9 L566.0,244.5 L566.5,246.2 L567.0,248.0 L567.5,249.9 L568.0,252.0 L568.5,254.1 L569.0,256.3 L569.5,258.5 L570.0,260.9 L570.5,263.3 L571.0,265.8 L571.5,268.4 L572.0,271.0 L572.5,273.7 L573.0,276.4 L573.5,279.1 L574.0,281.9 L574.5,284.8 L575.0,287.6 L575.5,290.5 L576.0,293.4 L576.5,296.3 L577.0,299.3 L577.5,302.2 L578.0,305.1 L578.5,308.0 L579.0,310.9 L579.5,313.7 L580.0,316.5 L580.5,319.3 L581.0,322.1 L581.5,324.8 L582.0,327.4 L582.5,330.0 L583.0,332.6 L583.5,335.0 L584.0,337.4 L584.5,339.8 L585.0,342.0 L585.5,344.2 L586.0,346.2 L586.5,348.2 L587.0,350.1 L587.5,351.9 L588.0,353.5 L588.5,355.1 L589.0,356.6 L589.5,357.9 L590.0,359.2 L590.5,360.3 L591.0,361.3 L591.5,362.2 L592.0,362.9 L592.5,363.6 L593.0,364.1 L593.5,364.5 L594.0,364.7 L594.5,364.9 L595.0,364.9 L595.5,364.8 L596.0,364.6 L596.5,364.2 L597.0,363.7 L597.5,363.1 L598.0,362.4 L598.5,361.6 L599.0,360.7 L599.5,359.6 L600.0,358.4 L600.5,357.2 L601.0,355.8 L601.5,354.3 L602.0,352.7 L602.5,351.1 L603.0,349.3 L603.5,347.5 L604.0,345.5 L604.5,343.5 L605.0,341.5 L605.5,339.3 L606.0,337.1 L606.5,334.9 L607.0,332.6 L607.5,330.2 L608.0,327.8 L608.5,325.4 L609.0,322.9 L609.5,320.4 L610.0,317.9 L610.5,315.4 L611.0,312.9 L611.5,310.3 L612.0,307.8 L612.5,305.3 L613.0,302.8 L613.5,300.3 L614.0,297.8 L614.5,295.4 L615.0,293.0 L615.5,290.7 L616.0,288.4 L616.5,286.1 L617.0,283.9 L617.5,281.8 L618.0,279.8 L618.5,277.8 L619.0,275.9 L619.5,274.0 L620.0,272.3 L620.5,270.7 L621.0,269.1 L621.5,267.6 L622.0,266.3 L622.5,265.0 L623.0,263.9 L623.5,262.9 L624.0,261.9 L624.5,261.1 L625.0,260.4 L625.5,259.9 L626.0,259.4 L626.5,259.1 L627.0,258.9 L627.5,258.8 L628.0,258.8 L628.5,259.0 L629.0,259.3 L629.5,259.7 L630.0,260.3 L630.5,260.9 L631.0,261.7 L631.5,262.6 L632.0,263.6 L632.5,264.8 L633.0,266.0 L633.5,267.4 L634.0,268.9 L634.6,270.5 L635.1,272.2 L635.6,274.0 L636.1,275.9 L636.6,277.9 L637.1,280.0 L637.6,282.2 L638.1,284.4 L638.6,286.7 L639.1,289.2 L639.6,291.6 L640.1,294.2 L640.6,296.8 L641.1,299.5 L641.6,302.2 L642.1,304.9 L642.6,307.7 L643.1,310.6 L643.6,313.4 L644.1,316.3 L644.6,319.2 L645.1,322.1 L645.6,325.0" fill="#fff40d" stroke="#353435" stroke-width="2.8" stroke-linejoin="round"/>

<!-- axis -->
<line x1="249" y1="171.37" x2="266.5" y2="178.38" stroke="#4bd9ff" stroke-width="0.8"/>
<line x1="241" y1="169.80" x2="250.5" y2="173.44" stroke="url(#axfade)" stroke-width="2.0"/>
<line x1="250.0" y1="173.25" x2="660.0" y2="330.57" stroke="#353435" stroke-width="2.0"/>
<polygon points="671.3,334.9 657.9,322.4 655.5,329.3 652.6,335.6" fill="#353435"/>

<!-- labels -->
<g fill="#58595b" stroke="#58595b" stroke-width="0.35" font-weight="bold" opacity="0.999">
  <text transform="translate(148.5,82.5) rotate(22)" font-size="20.6">Light beam</text>
  <text transform="translate(205,243) rotate(22.3)" font-size="20.6">Unpolarized light</text>
  <text transform="translate(481,351) rotate(22)" font-size="20.6">Polarized light</text>
  <text transform="matrix(0.866,-0.5,-0.03,1,437,169)" font-size="16.5" font-style="italic">Polarizer</text>
</g>

<!-- logo -->
<g id="logo" opacity="0.999">
  <rect x="650.6" y="10.8" width="24.4" height="24.2" rx="1.8" fill="#813588"/>
  <path d="M656.3,16.7 L662.5,14.5 C665,13.7 666.6,15 666.1,17 L665.5,20.3 C668,21.5 670.3,23.5 670,25.6 C669.8,27.4 669.3,28.3 667.5,29 L660.6,31.5 Z" fill="none" stroke="#fff" stroke-width="1.1" stroke-linejoin="round"/>
  <text x="677.6" y="26.4" font-size="20.6" font-weight="bold" fill="#813588" stroke="#813588" stroke-width="0.5" textLength="63.3" lengthAdjust="spacingAndGlyphs">BYJU'S</text>
  <text x="678.6" y="34.3" font-size="7.1" fill="#6d6e70" textLength="62.3" lengthAdjust="spacingAndGlyphs">The Learning App</text>
</g>
</svg>
</body></html>
